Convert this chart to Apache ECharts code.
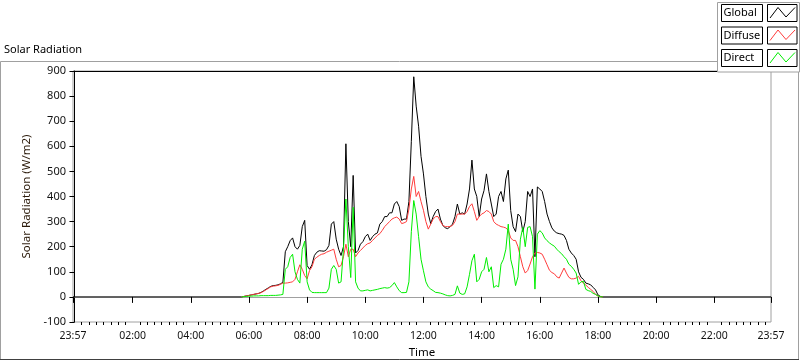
<!DOCTYPE html>
<html><head><meta charset="utf-8">
<script src="https://cdn.jsdelivr.net/npm/echarts@6/dist/echarts.min.js"></script>
<style>html,body{margin:0;padding:0;background:#fff}#c{width:800px;height:361px}</style>
</head><body><div id="c"></div>
<script>
// time axis: minutes after midnight; the chart spans 23:57 -> 23:57
const axisStart = -3, axisEnd = 1437;
const dayStart = 345, dayStep = 5; // readings every 5 min from 05:45
const majorTickMinutes = [-3, 120, 240, 360, 480, 600, 720, 840, 960, 1080, 1200, 1320, 1437];
const majorTickLabels = ['23:57','02:00','04:00','06:00','08:00','10:00','12:00','14:00','16:00','18:00','20:00','22:00','23:57'];
const yTicks = [-100, 0, 100, 200, 300, 400, 500, 600, 700, 800, 900];

const globalRad = [
0,2,4,6,8,10,12,14,18,24,
30,36,42,45,46,48,52,58,180,200,
224,235,200,190,205,280,305,125,110,128,
165,178,184,183,182,188,205,290,300,230,
190,165,200,610,300,200,484,175,185,210,
220,240,250,225,240,250,255,290,300,320,
320,335,335,370,380,360,305,310,310,380,
620,877,760,680,560,490,400,330,292,320,
340,350,310,285,275,272,280,290,320,370,
330,335,330,370,430,545,430,400,320,390,
424,490,420,370,320,330,400,420,380,470,
505,344,280,260,330,320,260,300,420,400,
430,160,438,430,420,380,330,300,275,262,
255,252,250,245,225,190,175,165,150,100,
78,70,55,52,48,38,28,8,2,0];
const diffuseRad = [
0,2,4,6,8,10,12,14,17,22,
28,34,40,43,44,46,50,55,55,56,
58,60,70,100,128,110,85,72,105,120,
150,158,165,170,172,178,182,186,190,150,
120,125,160,210,160,190,190,160,175,185,
195,205,212,215,225,235,245,252,265,280,
290,300,310,315,318,310,292,295,300,350,
430,480,400,420,380,345,300,270,290,310,
320,320,300,285,280,280,280,285,300,330,
330,330,330,340,360,371,340,305,320,330,
335,344,340,330,300,290,285,280,278,275,
265,235,225,225,200,160,120,95,105,131,
160,175,177,175,170,150,128,106,97,92,
80,75,95,115,95,78,72,72,75,82,
64,55,47,38,30,22,10,3,1,0];
const directRad = [
0,1,2,3,3,4,4,4,5,5,
5,5,6,6,6,7,8,10,110,120,
157,170,100,70,55,190,222,60,28,18,
17,17,17,17,17,17,35,110,125,110,
55,60,190,390,200,77,357,60,35,24,
24,26,28,24,26,28,30,33,35,37,
35,37,45,57,40,25,17,17,18,60,
260,384,330,240,150,104,60,40,31,25,
18,17,15,12,8,5,4,6,10,44,
15,10,12,40,90,144,170,60,70,100,
110,157,100,120,37,45,40,130,150,190,
290,150,110,45,80,230,277,200,277,280,
240,31,250,264,255,235,224,215,208,202,
190,180,172,160,150,130,122,110,95,50,
60,62,30,25,22,14,10,4,1,0];

const seriesNames = ['Global', 'Diffuse', 'Direct'];
const seriesColors = ['#000000', '#ff3c3c', '#00ee00'];

function pairs(arr) { return arr.map((v, i) => [dayStart + i * dayStep, v]); }
const globalData = [[axisStart, 0]].concat(pairs(globalRad), [[axisEnd, 0]]);
const diffuseData = pairs(diffuseRad);
const directData = pairs(directRad);

const minorTicks = [];
for (let m = 0; m <= 1425; m += 15) if (m % 120 !== 0) minorTicks.push(m);

const font = 'Noto Sans';
const chart = echarts.init(document.getElementById('c'));

const legendGraphics = [];
legendGraphics.push({ type: 'rect', shape: { x: 717.5, y: 2.5, width: 82, height: 69.5 },
  style: { fill: '#fff', stroke: '#a0a0a0', lineWidth: 1 }, z: 100 });
seriesNames.forEach((name, i) => {
  const y0 = 4.5 + i * 22.5;
  legendGraphics.push({ type: 'rect', shape: { x: 721.5, y: y0, width: 41, height: 17 },
    style: { fill: '#fff', stroke: '#000', lineWidth: 1 }, z: 101 });
  legendGraphics.push({ type: 'text', x: 723.5, y: y0 + 8.5,
    style: { text: name, font: '11px "' + font + '"', fill: '#000', verticalAlign: 'middle' }, z: 102 });
  legendGraphics.push({ type: 'rect', shape: { x: 767.5, y: y0, width: 29.5, height: 17 },
    style: { fill: '#fff', stroke: '#000', lineWidth: 1 }, z: 101 });
  legendGraphics.push({ type: 'polyline', shape: { points: [[770, y0 + 13.5], [778, y0 + 3], [786, y0 + 12.5], [795, y0 + 3]] },
    style: { stroke: seriesColors[i], lineWidth: 1, fill: null }, z: 102 });
});

const option = {
  animation: false,
  backgroundColor: '#fff',
  textStyle: { fontFamily: font },
  grid: { left: 73, right: 29, top: 71, bottom: 39, show: true, borderColor: '#a0a0a0', borderWidth: 1,
    backgroundColor: '#fff', containLabel: false, outerBoundsMode: 'none' },
  xAxis: [
    { type: 'value', min: axisStart, max: axisEnd, position: 'bottom',
      name: 'Time', nameLocation: 'middle', nameGap: 25,
      nameTextStyle: { color: '#000', fontSize: 11.5, fontFamily: font },
      axisLine: { show: true, lineStyle: { color: '#a0a0a0' } },
      axisTick: { show: true, length: 6, lineStyle: { color: '#000' }, customValues: majorTickMinutes },
      axisLabel: { color: '#111', fontSize: 10.5, fontFamily: font, margin: 9, customValues: majorTickMinutes,
        formatter: v => majorTickLabels[majorTickMinutes.indexOf(v)] || '' },
      splitLine: { show: false } },
    { type: 'value', min: axisStart, max: axisEnd, position: 'bottom', gridIndex: 0,
      axisLine: { show: false },
      axisTick: { show: true, length: 3, lineStyle: { color: '#000' }, customValues: minorTicks },
      axisLabel: { show: false }, splitLine: { show: false } },
    { type: 'value', min: axisStart, max: axisEnd, position: 'top', gridIndex: 0,
      axisLine: { show: true, lineStyle: { color: '#000' } },
      axisTick: { show: false }, axisLabel: { show: false }, splitLine: { show: false } }
  ],
  yAxis: { type: 'value', min: -100, max: 900, interval: 100,
    name: 'Solar Radiation (W/m2)', nameLocation: 'middle', nameGap: 40,
    nameTextStyle: { color: '#2b1a0a', fontSize: 11.5, fontFamily: font },
    axisLine: { show: true, lineStyle: { color: '#000' } },
    axisTick: { show: true, length: 5, lineStyle: { color: '#000' } },
    axisLabel: { color: '#111', fontSize: 11, fontFamily: font, margin: 7,
      customValues: yTicks },
    splitLine: { show: false } },
  series: [
    { name: seriesNames[0], type: 'line', data: globalData, showSymbol: false, symbol: 'none',
      lineStyle: { color: seriesColors[0], width: 1 }, itemStyle: { color: seriesColors[0] } },
    { name: seriesNames[1], type: 'line', data: diffuseData, showSymbol: false, symbol: 'none',
      lineStyle: { color: seriesColors[1], width: 1 }, itemStyle: { color: seriesColors[1] } },
    { name: seriesNames[2], type: 'line', data: directData, showSymbol: false, symbol: 'none',
      lineStyle: { color: seriesColors[2], width: 1 }, itemStyle: { color: seriesColors[2] } }
  ],
  graphic: [
    { type: 'rect', shape: { x: 0.5, y: 61.5, width: 798, height: 298 },
      style: { fill: null, stroke: '#a0a0a0', lineWidth: 1 }, z: 50, silent: true },
    { type: 'line', shape: { x1: 0, y1: 359.5, x2: 799, y2: 359.5 },
      style: { stroke: '#404040', lineWidth: 1 }, z: 51 },
    { type: 'text', x: 4, y: 50,
      style: { text: 'Solar Radiation', font: '11px "' + font + '"', fill: '#000', verticalAlign: 'middle' }, z: 60 }
  ].concat(legendGraphics)
};
chart.setOption(option);
</script></body></html>
